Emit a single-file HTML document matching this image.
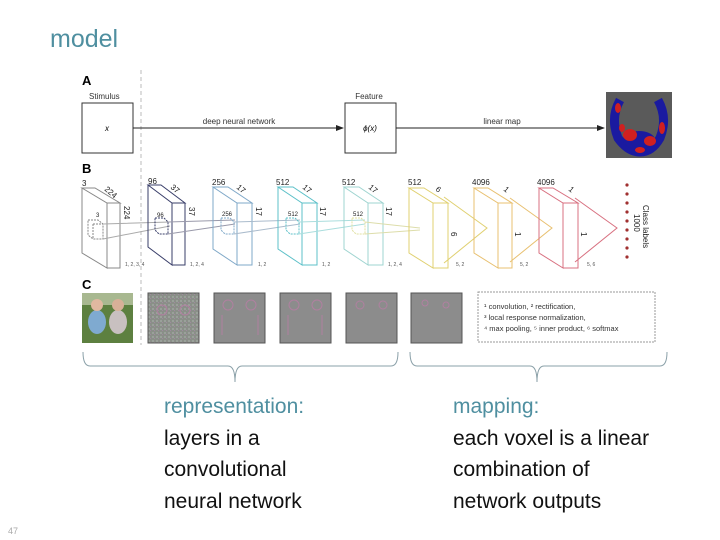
<!DOCTYPE html>
<html><head><meta charset="utf-8"><style>
body{margin:0;width:720px;height:540px;background:#fff;overflow:hidden;position:relative;font-family:"Liberation Sans",sans-serif}
.t{position:absolute;font-size:21px;line-height:31.5px;color:#111;white-space:nowrap}
.teal{color:#4f8fa0}
</style></head><body>
<div style="position:absolute;left:50px;top:25px;font-size:25px;color:#4f8fa0">model</div>
<svg width="720" height="540" style="position:absolute;left:0;top:0" font-family="Liberation Sans, sans-serif">
<defs>
<marker id="ar" markerWidth="8" markerHeight="8" refX="7" refY="4" orient="auto"><path d="M0,1 L8,4 L0,7z" fill="#222"/></marker>
<pattern id="nz" width="4" height="4" patternUnits="userSpaceOnUse"><rect width="4" height="4" fill="#8a8f88"/><rect width="2" height="2" fill="#9aa09a"/><rect x="2" y="2" width="1" height="1" fill="#a08aa0"/></pattern>
</defs>
<text x="82" y="85" font-size="13" font-weight="bold">A</text>
<text x="89" y="99" font-size="8" fill="#333">Stimulus</text>
<rect x="82" y="103" width="51" height="50" fill="#fff" stroke="#333" stroke-width="1"/>
<text x="105" y="131" font-size="8" font-style="italic">x</text>
<line x1="141" y1="70" x2="141" y2="345" stroke="#bbb" stroke-dasharray="4,3"/>
<line x1="133" y1="128" x2="343" y2="128" stroke="#222" marker-end="url(#ar)"/>
<text x="239" y="124" font-size="8" text-anchor="middle" fill="#333">deep neural network</text>
<text x="369" y="99" font-size="8" text-anchor="middle" fill="#333">Feature</text>
<rect x="345" y="103" width="51" height="50" fill="#fff" stroke="#333"/>
<text x="370" y="131" font-size="8" text-anchor="middle" font-style="italic">ϕ(x)</text>
<line x1="396" y1="128" x2="604" y2="128" stroke="#222" marker-end="url(#ar)"/>
<text x="502" y="124" font-size="8" text-anchor="middle" fill="#333">linear map</text>
<rect x="606" y="92" width="66" height="66" fill="#5a5a5a"/>
<g>
<path d="M620,100 Q610,118 618,138 Q628,152 640,152 Q652,152 660,138 Q668,118 658,100" fill="none" stroke="#1a1aa0" stroke-width="9"/>
<ellipse cx="639" cy="140" rx="16" ry="9" fill="#1a1aa0"/>
<ellipse cx="630" cy="135" rx="7" ry="6" fill="#d02020"/>
<ellipse cx="650" cy="141" rx="6" ry="5" fill="#d02020"/>
<ellipse cx="618" cy="108" rx="3" ry="5" fill="#d02020"/>
<ellipse cx="662" cy="128" rx="3" ry="6" fill="#d02020"/>
<ellipse cx="640" cy="150" rx="5" ry="3" fill="#d02020"/>
<ellipse cx="622" cy="128" rx="3" ry="4" fill="#d02020"/>
</g>
<text x="82" y="173" font-size="13" font-weight="bold">B</text>
<g fill="none" stroke-width="1">
<g stroke="#888"><path d="M82,188 L95,188 L120,203 L107,203 Z M82,188 L82,253 L107,268 L107,203 M120,203 L120,268 L107,268"/><path d="M88,220 h10 l5,4 v15 h-10 l-5,-4 z M93,224 v15 M93,224 h10" stroke-dasharray="2,1"/><path d="M103,224 L170,222 M103,239 L170,226" stroke="#aaa"/></g>
<g stroke="#3a3f6a"><path d="M148,185 L161,185 L185,203 L172,203 Z M148,185 L148,247 L172,265 L172,203 M185,203 L185,265 L172,265"/><path d="M155,218 h9 l4,4 v12 h-9 l-4,-4 z" stroke-dasharray="2,1"/><path d="M168,222 L235,220 M168,234 L235,224" stroke="#99a"/></g>
<g stroke="#7fa8c8"><path d="M213,187 L228,187 L252,203 L237,203 Z M213,187 L213,249 L237,265 L237,203 M252,203 L252,265 L237,265"/><path d="M221,218 h9 l4,4 v12 h-9 l-4,-4 z" stroke-dasharray="2,1"/><path d="M234,222 L300,220 M234,234 L300,224" stroke="#abc"/></g>
<g stroke="#5cc0c8"><path d="M278,187 L293,187 L317,203 L302,203 Z M278,187 L278,249 L302,265 L302,203 M317,203 L317,265 L302,265"/><path d="M286,218 h9 l4,4 v12 h-9 l-4,-4 z" stroke-dasharray="2,1"/><path d="M299,222 L365,220 M299,234 L365,224" stroke="#add"/></g>
<g stroke="#9fd4d0"><path d="M344,187 L359,187 L383,203 L368,203 Z M344,187 L344,249 L368,265 L368,203 M383,203 L383,265 L368,265"/><path d="M352,218 h9 l4,4 v12 h-9 l-4,-4 z" stroke="#e0e0a0" stroke-dasharray="2,1"/><path d="M365,222 L420,228 M365,234 L420,230" stroke="#dda"/></g>
<g stroke="#e0d070"><path d="M409,188 L424,188 L448,203 L433,203 Z M409,188 L409,253 L433,268 L433,203 M448,203 L448,268 L433,268 M444,197 L487,228 L444,263"/></g>
<g stroke="#e8c070"><path d="M474,188 L488,188 L512,203 L498,203 Z M474,188 L474,253 L498,268 L498,203 M512,203 L512,268 L498,268 M510,198 L552,228 L510,262"/></g>
<g stroke="#d87080"><path d="M539,188 L553,188 L578,203 L563,203 Z M539,188 L539,253 L563,268 L563,203 M578,203 L578,268 L563,268 M575,198 L617,228 L575,262"/></g>
</g>
<g font-size="8" fill="#222">
<text x="82" y="186">3</text><text x="104" y="190" transform="rotate(40 104 190)">224</text><text x="124" y="206" transform="rotate(90 124 206)">224</text><text x="96" y="217" font-size="6">3</text>
<text x="148" y="184">96</text><text x="170" y="188" transform="rotate(40 170 188)">37</text><text x="189" y="207" transform="rotate(90 189 207)">37</text><text x="157" y="217" font-size="6">96</text>
<text x="212" y="185">256</text><text x="236" y="188" transform="rotate(40 236 188)">17</text><text x="256" y="207" transform="rotate(90 256 207)">17</text><text x="222" y="216" font-size="6">256</text>
<text x="276" y="185">512</text><text x="302" y="188" transform="rotate(40 302 188)">17</text><text x="320" y="207" transform="rotate(90 320 207)">17</text><text x="288" y="216" font-size="6">512</text>
<text x="342" y="185">512</text><text x="368" y="188" transform="rotate(40 368 188)">17</text><text x="386" y="207" transform="rotate(90 386 207)">17</text><text x="353" y="216" font-size="6">512</text>
<text x="408" y="185">512</text><text x="435" y="190" transform="rotate(40 435 190)">6</text><text x="451" y="232" transform="rotate(90 451 232)">6</text>
<text x="472" y="185">4096</text><text x="503" y="190" transform="rotate(40 503 190)">1</text><text x="515" y="232" transform="rotate(90 515 232)">1</text>
<text x="537" y="185">4096</text><text x="568" y="190" transform="rotate(40 568 190)">1</text><text x="581" y="232" transform="rotate(90 581 232)">1</text>
<g font-size="5" fill="#555"><text x="125" y="266">1, 2, 3, 4</text><text x="190" y="266">1, 2, 4</text><text x="258" y="266">1, 2</text><text x="322" y="266">1, 2</text><text x="388" y="266">1, 2, 4</text><text x="456" y="266">5, 2</text><text x="520" y="266">5, 2</text><text x="587" y="266">5, 6</text></g>
<text x="643" y="205" transform="rotate(90 643 205)">Class labels</text><text x="634" y="214" transform="rotate(90 634 214)">1000</text>
</g>
<g fill="#a03030"><circle cx="627" cy="185" r="1.6"/><circle cx="627" cy="194" r="1.6"/><circle cx="627" cy="203" r="1.6"/><circle cx="627" cy="212" r="1.6"/><circle cx="627" cy="221" r="1.6"/><circle cx="627" cy="230" r="1.6"/><circle cx="627" cy="239" r="1.6"/><circle cx="627" cy="248" r="1.6"/><circle cx="627" cy="257" r="1.6"/></g>
<text x="82" y="289" font-size="13" font-weight="bold">C</text>
<rect x="82" y="293" width="51" height="50" fill="#5d8040"/>
<rect x="82" y="293" width="51" height="12" fill="#a8b890"/>
<ellipse cx="97" cy="322" rx="9" ry="12" fill="#7faad0"/><circle cx="97" cy="305" r="6" fill="#e0b8a0"/>
<ellipse cx="118" cy="322" rx="9" ry="12" fill="#c8c0c0"/><circle cx="118" cy="305" r="6" fill="#d8b098"/>
<rect x="148" y="293" width="51" height="50" fill="url(#nz)" stroke="#555"/>
<g stroke="#555" fill="#8c8c8c">
<rect x="214" y="293" width="51" height="50"/><rect x="280" y="293" width="51" height="50"/><rect x="346" y="293" width="51" height="50"/><rect x="411" y="293" width="51" height="50"/>
</g>
<g fill="none" stroke="#b080a0" stroke-width="1">
<circle cx="162" cy="310" r="5"/><circle cx="185" cy="310" r="5"/>
<circle cx="228" cy="305" r="5"/><circle cx="251" cy="305" r="5"/><path d="M222,315 v20 M258,315 v20"/>
<circle cx="294" cy="305" r="5"/><circle cx="317" cy="305" r="5"/><path d="M288,315 v20 M322,315 v20"/>
<circle cx="360" cy="305" r="4"/><circle cx="383" cy="305" r="4"/>
<circle cx="425" cy="303" r="3"/><circle cx="446" cy="305" r="3"/>
</g>
<rect x="478" y="292" width="177" height="50" fill="#fff" stroke="#999" stroke-dasharray="2,1"/>
<g font-size="7.5" fill="#333"><text x="484" y="309">¹ convolution, ² rectification,</text><text x="484" y="320">³ local response normalization,</text><text x="484" y="331">⁴ max pooling, ⁵ inner product, ⁶ softmax</text></g>
<path d="M83,352 Q83,366 90,366 L228,366 Q235,366 235,382 Q235,366 242,366 L391,366 Q398,366 398,352" fill="none" stroke="#8aa0a8" stroke-width="1"/>
<path d="M410,352 Q410,366 417,366 L530,366 Q537,366 537,382 Q537,366 544,366 L660,366 Q667,366 667,352" fill="none" stroke="#8aa0a8" stroke-width="1"/>
<text x="8" y="534" font-size="9" fill="#aaa">47</text>
</svg>
<div class="t" style="left:164px;top:391px"><span class="teal">representation:</span><br>layers in a<br>convolutional<br>neural network</div>
<div class="t" style="left:453px;top:391px"><span class="teal">mapping:</span><br>each voxel is a linear<br>combination of<br>network outputs</div>
</body></html>
